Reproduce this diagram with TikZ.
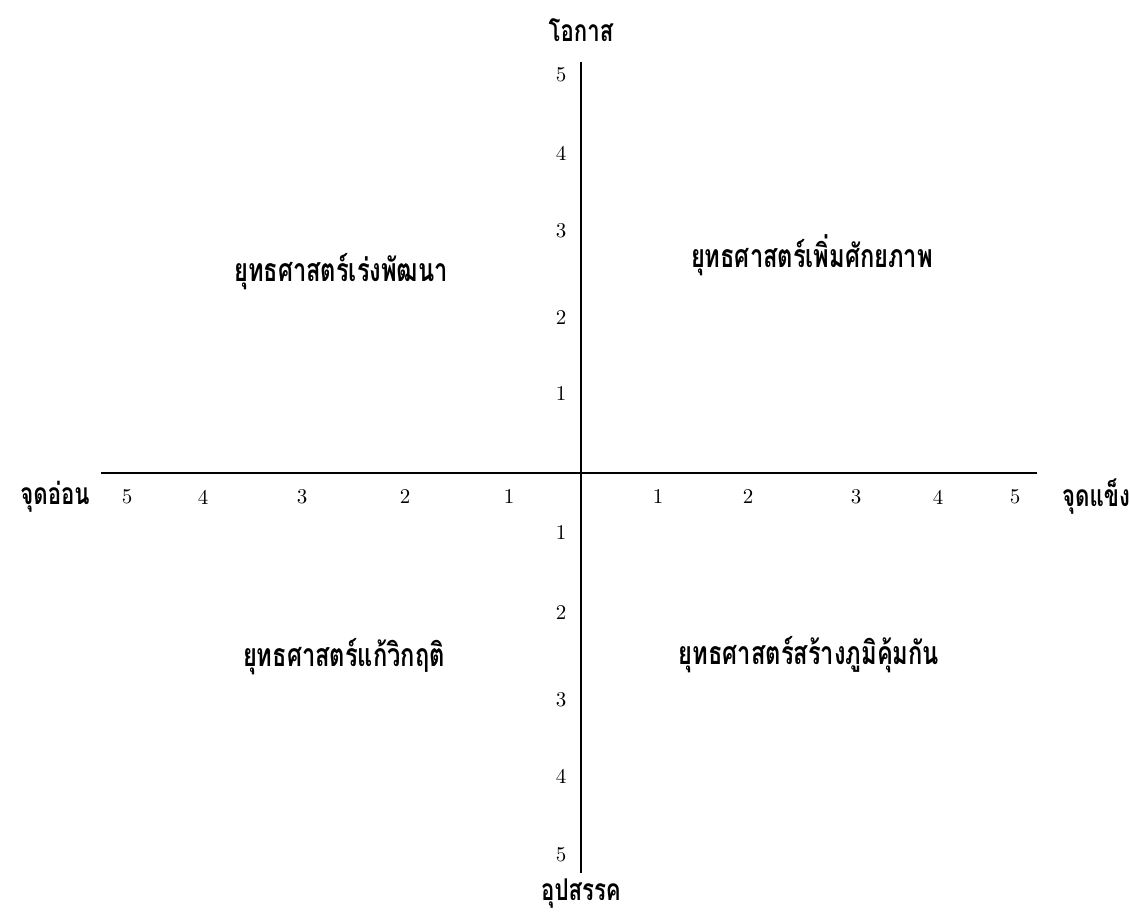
\documentclass[tikz,border=0pt]{standalone}
\usepackage{fontspec}
\newfontfamily\thaifont[Script=Thai,FakeStretch=0.74]{Loma}
\newfontfamily\numfont{lmroman10-regular.otf}
\usepackage{tikz}
\usetikzlibrary{positioning}

\begin{document}
\begin{tikzpicture}[x=1pt, y=-1pt,
  ax/.style={line width=2pt},
  num/.style={font=\numfont\fontsize{21}{21}\selectfont, inner sep=0pt},
  lbl/.style={font=\thaifont\bfseries\fontsize{30}{32}\selectfont, inner sep=0pt},
  qd/.style={font=\thaifont\bfseries\fontsize{32}{34}\selectfont, inner sep=0pt}]
\useasboundingbox (0,0) rectangle (1130,915);
% axes
\coordinate (top) at (581,62); \coordinate (bot) at (581,873);
\coordinate (lft) at (101,473); \coordinate (rgt) at (1037,473);
\draw[ax] (top) -- (bot);
\draw[ax] (lft) -- (rgt);
% axis titles
\node[lbl] (opp) at (581,30) {โอกาส};
\node[lbl] (thr) at (581,894) {อุปสรรค};
\node[lbl] (weak) at (55,497) {จุดอ่อน};
\node[lbl] (str) at (1096,497) {จุดแข็ง};
% tick numbers
\foreach \x/\n in {127/5, 203/4, 302/3, 405/2, 509/1}
  \node[num] (xl\n) at (\x,497) {\n};
\foreach \x/\n in {658/1, 748/2, 856/3, 938/4, 1015/5}
  \node[num] (xr\n) at (\x,497) {\n};
\foreach \y/\n in {75/5, 153/4, 231/3, 318/2, 394/1}
  \node[num] (yt\n) at (561,\y) {\n};
\foreach \y/\n in {533/1, 613/2, 700/3, 776/4, 855/5}
  \node[num] (yb\n) at (561,\y) {\n};
% quadrants
\node[qd] (q1) at (812,255) {ยุทธศาสตร์เพิ่มศักยภาพ};
\node[qd] (q2) at (341,272) {ยุทธศาสตร์เร่งพัฒนา};
\node[qd] (q3) at (344,657) {ยุทธศาสตร์แก้วิกฤติ};
\node[qd] (q4) at (809,655) {ยุทธศาสตร์สร้างภูมิคุ้มกัน};
\end{tikzpicture}
\end{document}
